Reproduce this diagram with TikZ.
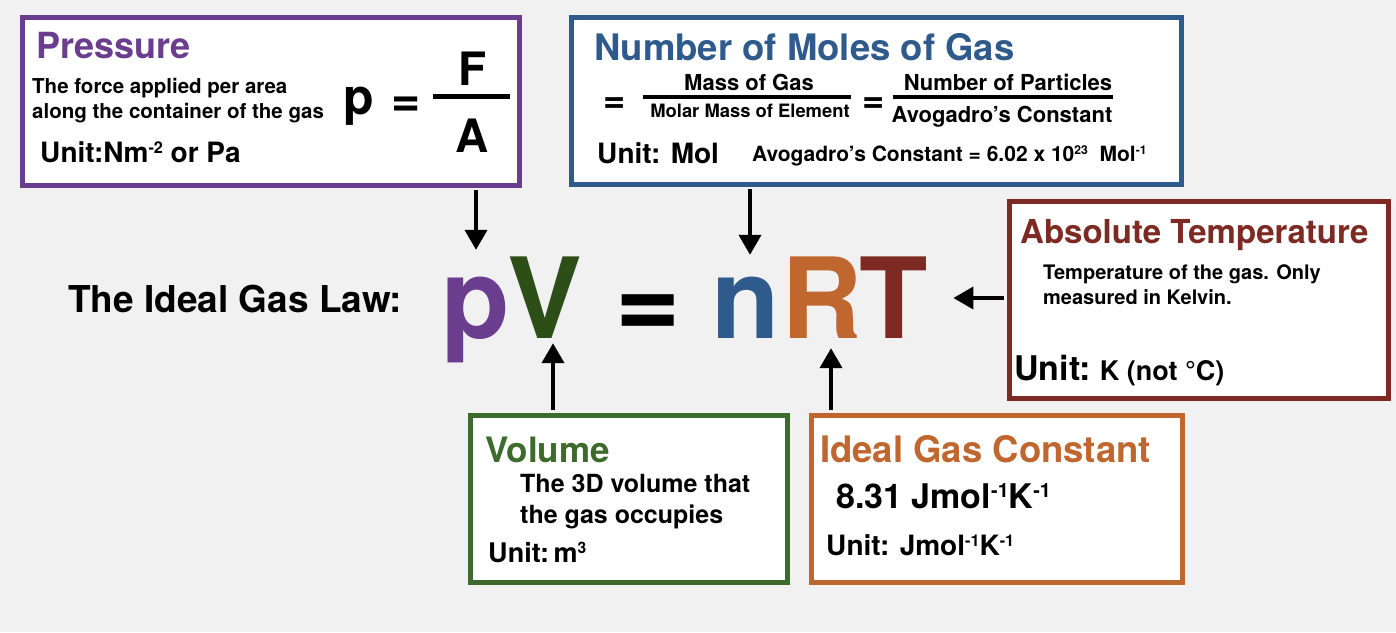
\documentclass[tikz,border=0pt]{standalone}
\usepackage{fontspec}
\setmainfont{TeX Gyre Heros}
\usetikzlibrary{arrows.meta}
\definecolor{bgcol}{HTML}{F1F1F1}
\definecolor{pcol}{HTML}{6B3D8F}
\definecolor{bcol}{HTML}{2E5A8C}
\definecolor{rcol}{HTML}{7D2A23}
\definecolor{gcol}{HTML}{3D6B2C}
\definecolor{vcol}{HTML}{2D4F17}
\definecolor{ocol}{HTML}{C0672F}
\newcommand\myfs[1]{\fontsize{#1}{#1}\selectfont}
\newcommand\sups[1]{\raisebox{0.3em}{\scalebox{0.58}{#1}}}
\begin{document}
\begin{tikzpicture}[x=1pt,y=-1pt,
  every node/.style={inner sep=0pt},
  txt/.style={anchor=base west},
  box/.style={draw, line width=5pt, fill=white, anchor=north west},
  big/.style={anchor=base, font=\bfseries\myfs{112}, text height=80pt, text depth=0pt},
  arr/.style={line width=4pt, shorten <=2.5pt, -{Triangle[width=22pt,length=20pt]}}]
\fill[bgcol] (0,0) rectangle (1396,632);
\useasboundingbox (0,0) rectangle (1396,632);

% boxes
\node[box, draw=pcol, minimum width=497pt, minimum height=168pt] (pressure) at (19.5,14.5) {};
\node[box, draw=bcol, minimum width=610pt, minimum height=167pt] (moles) at (568.5,14.5) {};
\node[box, draw=rcol, minimum width=379pt, minimum height=197pt] (abst) at (1006.5,198.5) {};
\node[box, draw=gcol, minimum width=317pt, minimum height=167pt] (volume) at (467.5,412.5) {};
\node[box, draw=ocol, minimum width=371pt, minimum height=167pt] (gasc) at (808.5,412.5) {};

% Pressure box
\node[txt, text=pcol, font=\bfseries\myfs{36}] (ptitle) at (36,58) {Pressure};
\node[txt, font=\bfseries\myfs{20.5}] (pd1) at (32,93) {The force applied per area};
\node[txt, font=\bfseries\myfs{20.5}] (pd2) at (32,118) {along the container of the gas};
\node[txt, font=\bfseries\myfs{28}] (punit) at (40,162) {Unit:Nm\sups{-2} or Pa};
\node[txt, font=\bfseries\myfs{50}] (pp) at (343,114) {p};
\node[anchor=base, font=\bfseries\myfs{50}] (peq) at (406,116) {=};
\node[anchor=base, font=\bfseries\myfs{46}] (pF) at (473,85) {F};
\node[anchor=base, font=\bfseries\myfs{46}] (pA) at (472,152) {A};
\draw[line width=5pt] (433,96) -- (510,96);

% Moles box
\node[txt, text=bcol, font=\bfseries\myfs{36.5}] (mtitle) at (594,60) {Number of Moles of Gas};
\node[anchor=base, font=\bfseries\myfs{38}] (meq1) at (614.5,112) {=};
\node[anchor=base, font=\bfseries\myfs{22}] (mnum1) at (749,90) {Mass of Gas};
\draw[line width=4pt] (643,97) -- (851,97);
\node[anchor=base, font=\bfseries\myfs{18.4}] (mden1) at (750,117) {Molar Mass of Element};
\node[anchor=base, font=\bfseries\myfs{38}] (meq2) at (873.5,112) {=};
\node[anchor=base, font=\bfseries\myfs{22}] (mnum2) at (1008,90) {Number of Particles};
\draw[line width=4pt] (893,97) -- (1113,97);
\node[anchor=base, font=\bfseries\myfs{22}] (mden2) at (1002,122) {Avogadro’s Constant};
\node[txt, font=\bfseries\myfs{28}] (munit) at (597,163) {Unit: Mol};
\node[txt, font=\bfseries\myfs{21}] (mavo) at (752,161) {Avogadro’s Constant = 6.02 x 10\sups{23}\ \ Mol\sups{-1}};

% Absolute temperature box
\node[txt, text=rcol, font=\bfseries\myfs{33}] (ttitle) at (1020,243) {Absolute Temperature};
\node[txt, font=\bfseries\myfs{20}] (td1) at (1043,279) {Temperature of the gas. Only};
\node[txt, font=\bfseries\myfs{20}] (td2) at (1043,304) {measured in Kelvin.};
\node[txt, font=\bfseries] (tunit) at (1014,380) {{\myfs{34}Unit:}\hspace{9pt}{\myfs{27}K (not °C)}};

% Volume box
\node[txt, text=gcol, font=\bfseries\myfs{35}] (vtitle) at (485,462) {Volume};
\node[txt, font=\bfseries\myfs{25}] (vd1) at (520,492) {The 3D volume that};
\node[txt, font=\bfseries\myfs{25}] (vd2) at (520,523) {the gas occupies};
\node[txt, font=\bfseries\myfs{27}] (vunit) at (488,562) {Unit:\,m\sups{3}};

% Gas constant box
\node[txt, text=ocol, font=\bfseries\myfs{36.5}] (rtitle) at (820,462) {Ideal Gas Constant};
\node[txt, font=\bfseries\myfs{34}] (rval) at (836,508) {8.31 Jmol\sups{-1}K\sups{-1}};
\node[txt, font=\bfseries\myfs{28}] (runit) at (826,555) {Unit: Jmol\sups{-1}K\sups{-1}};

% main equation
\node[txt, font=\bfseries\myfs{37}] (law) at (68,312) {The Ideal Gas Law:};
\node[big, text=pcol] (Lp) at (476,338) {p};
\node[big, text=vcol] (LV) at (545,338) {V};
\node[big] (Leq) at (648,338) {=};
\node[big, text=bcol] (Ln) at (746,338) {n};
\node[big, text=ocol] (LR) at (822,338) {R};
\node[big, text=rcol] (LT) at (894,338) {T};

% arrows
\draw[arr, shorten >=8pt] (pressure.south -| Lp.north) -- (Lp.north);
\draw[arr, shorten >=3pt] ([xshift=4pt]Ln.north |- moles.south) -- ([xshift=4pt]Ln.north);
\draw[arr, shorten >=5pt] ([xshift=8pt]LV.south |- volume.north) -- ([xshift=8pt]LV.south);
\draw[arr, shorten >=10pt] ([xshift=9pt]LR.south |- gasc.north) -- ([xshift=9pt]LR.south);
\draw[arr, shorten >=25pt] (abst.west |- LT.east) -- (LT.east);
\end{tikzpicture}
\end{document}
